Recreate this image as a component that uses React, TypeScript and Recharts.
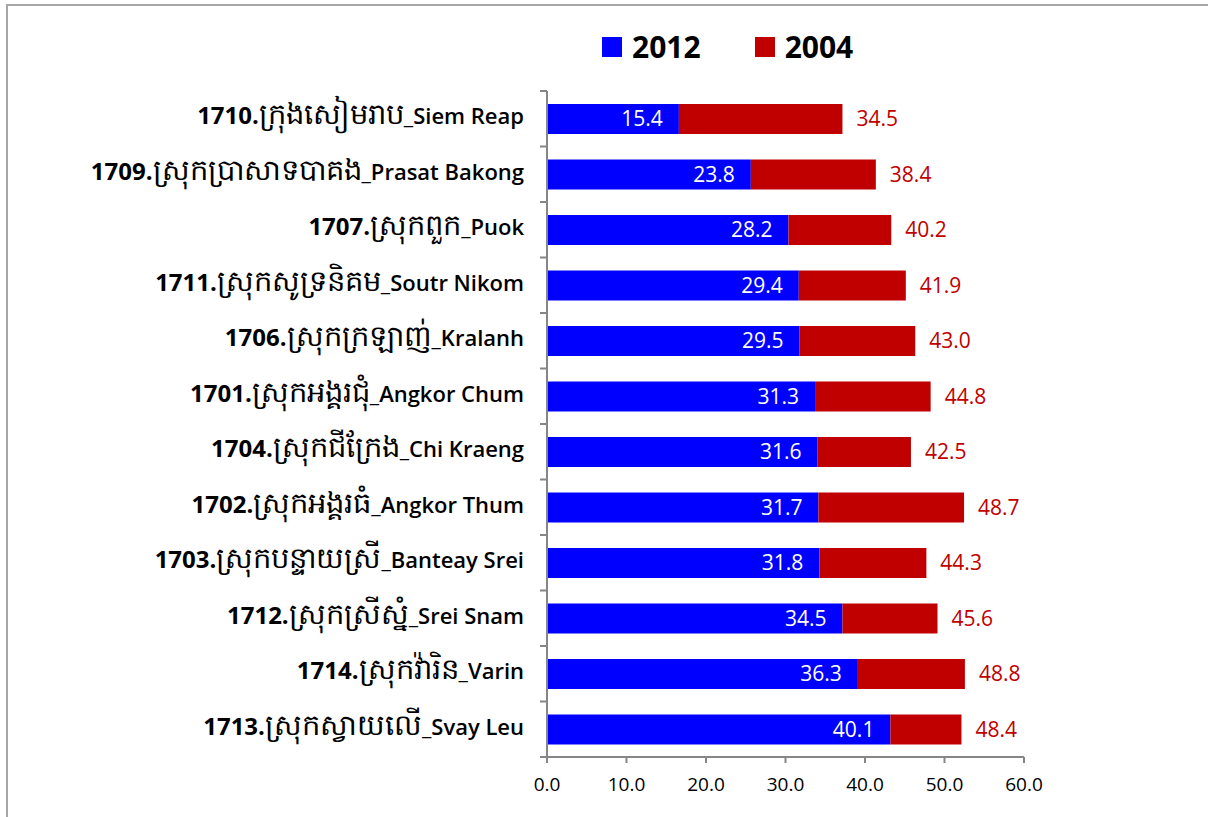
import React from 'react';
import { BarChart, Bar, XAxis, YAxis, LabelList } from 'recharts';

const categories = [
  '1710.ក្រុងសៀមរាប_Siem Reap',
  '1709.ស្រុកប្រាសាទបាគង_Prasat Bakong',
  '1707.ស្រុកពួក_Puok',
  '1711.ស្រុកសូទ្រនិគម_Soutr Nikom',
  '1706.ស្រុកក្រឡាញ់_Kralanh',
  '1701.ស្រុកអង្គរជុំ_Angkor Chum',
  '1704.ស្រុកជីក្រែង_Chi Kraeng',
  '1702.ស្រុកអង្គរធំ_Angkor Thum',
  '1703.ស្រុកបន្ទាយស្រី_Banteay Srei',
  '1712.ស្រុកស្រីស្នំ_Srei Snam',
  '1714.ស្រុកវ៉ារិន_Varin',
  '1713.ស្រុកស្វាយលើ_Svay Leu',
];
const values2012 = [15.4, 23.8, 28.2, 29.4, 29.5, 31.3, 31.6, 31.7, 31.8, 34.5, 36.3, 40.1];
const values2004 = [34.5, 38.4, 40.2, 41.9, 43.0, 44.8, 42.5, 48.7, 44.3, 45.6, 48.8, 48.4];
const xTicks = [0, 10, 20, 30, 40, 50, 60];
const axisDomain = [0, 60];
// the bars in the reference are drawn on a slightly different scale than the printed axis
const barDomain = [0, 55.7];
const seriesNames = ['2012', '2004'];

const data = categories.map((name, i) => ({
  name,
  v2012: values2012[i],
  v2004: values2004[i],
  diff: Math.max(0, +(values2004[i] - values2012[i]).toFixed(2)),
}));

const BLUE = '#0000ff';
const RED = '#c00000';
const AXIS = '#868686';
const FONT = '"Open Sans", Lato, sans-serif';

const CategoryTick = (props: any) => {
  const { x, y, payload, index } = props;
  const band = 55.5;
  const m = String(payload.value).match(/^(\d+\.)(.*?)(_.*)$/);
  const num = m ? m[1] : '';
  const khmer = m ? m[2] : String(payload.value);
  const latin = m ? m[3] : '';
  return (
    <g>
      <line x1={x + 1} x2={x + 8} y1={y - band / 2} y2={y - band / 2} stroke={AXIS} strokeWidth={2} />
      {index === categories.length - 1 && (
        <line x1={x + 1} x2={x + 8} y1={y + band / 2} y2={y + band / 2} stroke={AXIS} strokeWidth={2} />
      )}
      <text
        x={x - 15}
        y={y}
        dy="0.35em"
        textAnchor="end"
        fontFamily={FONT}
        fontWeight="bold"
        fill="#000"
      >
        <tspan fontSize={24}>{num}</tspan>
        <tspan fontSize={29} fontWeight="normal">{khmer}</tspan>
        <tspan fontSize={22} fontWeight={600}>{latin}</tspan>
      </text>
    </g>
  );
};

export default function App() {
  return (
    <div style={{ position: 'absolute', left: 0, top: 0, width: 1208, height: 817, overflow: 'hidden', background: '#fff' }}>
      <div
        style={{
          position: 'absolute',
          left: 6,
          top: 4,
          width: 1220,
          height: 830,
          border: '2px solid #a6a6a6',
          boxSizing: 'border-box',
        }}
      />
      <div
        style={{
          position: 'absolute',
          left: 602,
          top: 25,
          display: 'flex',
          alignItems: 'center',
          fontFamily: FONT,
          fontWeight: 'bold',
          fontSize: 30,
          color: '#000',
          lineHeight: '44px',
        }}
      >
        <span style={{ display: 'inline-block', width: 20, height: 20, background: BLUE, marginRight: 10 }} />
        <span style={{ marginRight: 54 }}>{seriesNames[0]}</span>
        <span style={{ display: 'inline-block', width: 20, height: 20, background: RED, marginRight: 10 }} />
        <span>{seriesNames[1]}</span>
      </div>
      {/* printed value axis (0–60), drawn by an overlaid chart with invisible bars */}
      <div style={{ position: 'absolute', left: 0, top: 0, pointerEvents: 'none' }}>
        <BarChart
          width={1208}
          height={817}
          data={data}
          layout="vertical"
          margin={{ top: 91, right: 184, bottom: 30, left: 547 }}
          barSize={30}
        >
          <XAxis
            type="number"
            domain={axisDomain}
            ticks={xTicks}
            height={30}
            tickFormatter={(v: number) => v.toFixed(1)}
            axisLine={{ stroke: AXIS, strokeWidth: 2 }}
            tickLine={{ stroke: AXIS, strokeWidth: 2 }}
            tickSize={6}
            tickMargin={15}
            tick={{ fill: '#000', fontSize: 19, fontFamily: FONT }}
            interval={0}
          />
          <YAxis type="category" dataKey="name" hide />
          <Bar dataKey="v2004" fill="transparent" isAnimationActive={false} />
        </BarChart>
      </div>
      {/* bars and category axis */}
      <div style={{ position: 'absolute', left: 0, top: 0 }}>
        <BarChart
          width={1208}
          height={817}
          data={data}
          layout="vertical"
          margin={{ top: 91, right: 184, bottom: 60, left: 0 }}
          barSize={30}
        >
          <XAxis type="number" domain={barDomain} allowDataOverflow hide />
          <YAxis
            type="category"
            dataKey="name"
            width={547}
            axisLine={{ stroke: AXIS, strokeWidth: 2 }}
            tickLine={false}
            tick={<CategoryTick />}
            interval={0}
          />
          <Bar dataKey="v2012" name={seriesNames[0]} stackId="a" fill={BLUE} isAnimationActive={false}>
            <LabelList
              dataKey="v2012"
              position="insideRight"
              offset={16}
              formatter={(v: any) => Number(v).toFixed(1)}
              style={{ fill: '#fff', fontSize: 21, fontFamily: FONT }}
            />
          </Bar>
          <Bar dataKey="diff" name={seriesNames[1]} stackId="a" fill={RED} isAnimationActive={false}>
            <LabelList
              dataKey="v2004"
              position="right"
              offset={14}
              formatter={(v: any) => Number(v).toFixed(1)}
              style={{ fill: RED, fontSize: 21, fontFamily: FONT }}
            />
          </Bar>
        </BarChart>
      </div>
    </div>
  );
}
